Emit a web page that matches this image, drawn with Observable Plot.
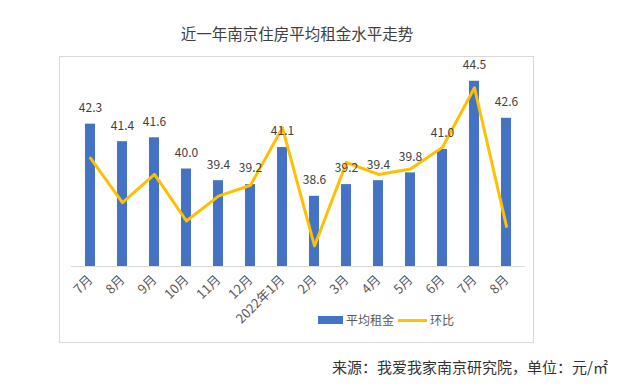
<!DOCTYPE html>
<html>
<head>
<meta charset="utf-8">
<script src="https://cdn.jsdelivr.net/npm/d3@7"></script>
<script src="https://cdn.jsdelivr.net/npm/@observablehq/plot@0.6"></script>
<style>
  html, body { margin: 0; padding: 0; background: #fff; }
  body { font-family: "Noto Sans CJK SC", "Noto Sans", sans-serif; }
  #wrap { position: relative; width: 640px; height: 392px; overflow: hidden; }
  #title { position: absolute; left: 59px; width: 476px; top: 21px; text-align: center;
           font-size: 15.5px; color: #404040; line-height: 24px; }
  #frame { position: absolute; left: 59px; top: 56px; width: 473px; height: 285px;
           border: 1px solid #d9d9d9; box-sizing: content-box; }
  #chart { position: absolute; left: 0; top: 50px; }
  #legend { position: absolute; top: 311px; left: 318px; font-size: 12px; color: #595959;
            display: flex; align-items: center; line-height: 18px; }
  #legend .sw-bar { width: 25px; height: 8px; background: #4472C4; margin-right: 3px; }
  #legend .sw-line { width: 29px; height: 3px; background: #FFC000; margin: 0 3px 0 4px; }
  #caption { position: absolute; right: 32px; top: 356px; font-size: 15px; color: #333; line-height: 22px; }
</style>
</head>
<body>
<div id="wrap">
  <div id="frame"></div>
  <div id="title">近一年南京住房平均租金水平走势</div>
  <div id="chart"></div>
  <div id="legend"><span class="sw-bar"></span><span>平均租金</span><span class="sw-line"></span><span>环比</span></div>
  <div id="caption">来源：我爱我家南京研究院，单位：元/㎡</div>
</div>
<script>
const months = ["7月","8月","9月","10月","11月","12月","2022年1月","2月","3月","4月","5月","6月","7月","8月"];
const rent = [42.3,41.4,41.6,40.0,39.4,39.2,41.1,38.6,39.2,39.4,39.8,41.0,44.5,42.6];
const mom = [2.0,-2.1,0.5,-3.8,-1.5,-0.5,4.8,-6.1,1.6,0.5,1.0,3.0,8.5,-4.3];
const rentDomain = [35, 45];
const momDomain = [-8, 10];

const toPrimary = d3.scaleLinear().domain(momDomain).range(rentDomain);
const data = months.map((m, i) => ({i, month: m, rent: rent[i], mom: mom[i], momY: toPrimary(mom[i])}));

const chart = Plot.plot({
  width: 640,
  height: 300,
  marginTop: 21,
  marginBottom: 84,
  marginLeft: 71,
  marginRight: 115,
  style: {fontFamily: "'Noto Sans CJK SC', 'Noto Sans', sans-serif", fontSize: "12px", color: "#595959", background: "transparent"},
  x: {type: "band", domain: data.map(d => d.i), paddingInner: 0.69, paddingOuter: 0.345},
  y: {domain: rentDomain, axis: null},
  marks: [
    Plot.barY(data, {x: "i", y1: rentDomain[0], y2: "rent", fill: "#4472C4"}),
    Plot.ruleY([rentDomain[0]], {stroke: "#d9d9d9", strokeWidth: 1}),
    Plot.line(data, {x: "i", y: "momY", stroke: "#FFC000", strokeWidth: 3, strokeLinejoin: "round"}),
    Plot.text(data, {x: "i", y: "rent", text: d => d.rent.toFixed(1), dy: -16, fill: "#404040", fontSize: 12}),
    Plot.axisX({tickRotate: -45, tickSize: 0, tickPadding: 11, tickFormat: i => months[i], fill: "#595959", fontSize: 13, label: null})
  ]
});
document.getElementById("chart").appendChild(chart);
</script>
</body>
</html>
